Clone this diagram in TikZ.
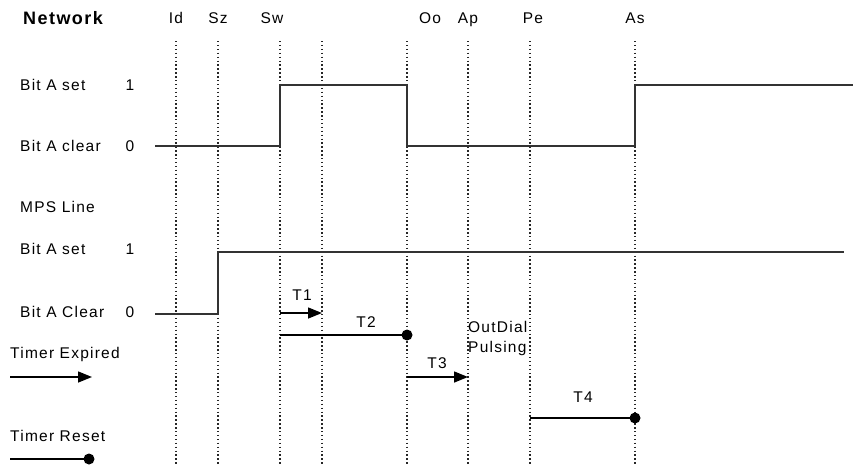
\documentclass[tikz,border=0pt]{standalone}
\usepackage{fontspec}
\setmainfont{Liberation Sans}[LetterSpace=8]
\usetikzlibrary{arrows.meta}

\begin{document}
\begin{tikzpicture}[x=1pt,y=-1pt,
  lbl/.style={font=\fontsize{15.5}{18}\selectfont,inner sep=0pt,
    text height=11pt,text depth=0pt},
  sig/.style={line width=1.8pt,black!80},
  tick/.style={line width=1.5pt,black!85,dash pattern=on 1.4pt off 2.5pt},
  expire/.style={line width=1.5pt,-{Triangle[length=14pt,width=11pt]}},
  resetdot/.style={circle,fill,inner sep=0pt,minimum size=11pt}]
  \useasboundingbox (0,0) rectangle (853,466);
  % time marks
  \foreach \nm/\x in {id/176,sz/218,sw/280,tw/322,oo/407,ap/468,pe/530,as/635}{
    \coordinate (\nm-t) at (\x,41);
    \coordinate (\nm-b) at (\x,466);
    \draw[tick] (\nm-t) -- (\nm-b);
  }
  \node[lbl,font=\fontsize{18}{20}\selectfont\bfseries,text height=12.9pt,
    anchor=west] (net) at (23,18) {Network};
  \node[lbl] (lid) at (176,18) {Id};
  \node[lbl] (lsz) at (218,18) {Sz};
  \node[lbl] (lsw) at (272,18) {Sw};
  \node[lbl] (loo) at (430,18) {Oo};
  \node[lbl] (lap) at (468,18) {Ap};
  \node[lbl] (lpe) at (533,18) {Pe};
  \node[lbl] (las) at (635,18) {As};

  % network signal
  \node[lbl,anchor=west] (nset) at (20,85) {Bit A set};
  \node[lbl] (none) at (130,85) {1};
  \node[lbl,anchor=west] (nclr) at (20,146) {Bit A clear};
  \node[lbl] (nzero) at (130,146) {0};
  \coordinate (nhi) at (0,85);
  \coordinate (nlo) at (0,146);
  \coordinate (nstart) at (155,146);
  \coordinate (nend) at (853,85);
  \draw[sig] (nstart) -- (sw-t |- nlo) -- (sw-t |- nhi) -- (oo-t |- nhi)
    -- (oo-t |- nlo) -- (as-t |- nlo) -- (as-t |- nhi) -- (nend);

  % MPS line
  \node[lbl,anchor=west] (mps) at (20,207) {MPS Line};
  \node[lbl,anchor=west] (mset) at (20,249) {Bit A set};
  \node[lbl] (mone) at (130,249) {1};
  \node[lbl,anchor=west] (mclr) at (20,312) {Bit A Clear};
  \node[lbl] (mzero) at (130,312) {0};
  \coordinate (mhi) at (0,252);
  \coordinate (mlo) at (0,314);
  \coordinate (mstart) at (155,314);
  \coordinate (mend) at (844,252);
  \draw[sig] (mstart) -- (sz-t |- mlo) -- (sz-t |- mhi) -- (mend);

  % timers
  \coordinate (t1) at (0,313);
  \coordinate (t2) at (0,335);
  \coordinate (t3) at (0,377);
  \coordinate (t4) at (0,418);
  \draw[expire] (sw-t |- t1) -- (tw-t |- t1);
  \node[lbl] (lt1) at (302,295) {T1};
  \node[resetdot] (t2e) at (oo-t |- t2) {};
  \draw[line width=1.5pt] (sw-t |- t2) -- (t2e.center);
  \node[lbl] (lt2) at (366,322) {T2};
  \draw[expire] (oo-t |- t3) -- (ap-t |- t3);
  \node[lbl] (lt3) at (437,363) {T3};
  \node[font=\fontsize{15.5}{20}\selectfont,inner sep=0pt,align=left,
    anchor=west] (odp) at (468,338) {OutDial\\Pulsing};
  \node[resetdot] (t4e) at (as-t |- t4) {};
  \draw[line width=1.5pt] (pe-t |- t4) -- (t4e.center);
  \node[lbl] (lt4) at (583,397) {T4};

  % legend
  \node[lbl,anchor=west] (lexp) at (10,353) {Timer Expired};
  \coordinate (ea) at (10,377);
  \coordinate (eb) at (92,377);
  \draw[expire] (ea) -- (eb);
  \node[lbl,anchor=west] (lres) at (10,436) {Timer Reset};
  \coordinate (ra) at (10,459);
  \node[resetdot] (rb) at (89,459) {};
  \draw[line width=1.5pt] (ra) -- (rb.center);
\end{tikzpicture}
\end{document}
